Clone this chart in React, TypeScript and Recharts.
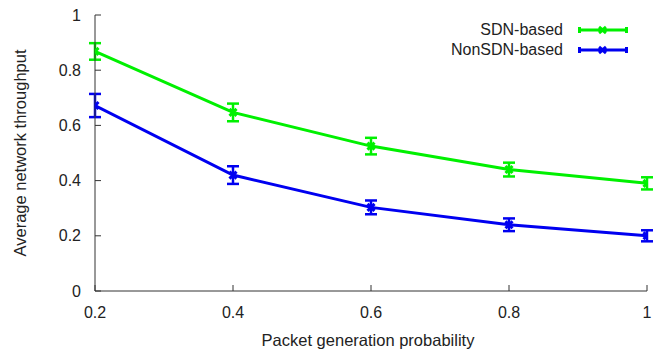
import {
  LineChart, Line, XAxis, YAxis, ErrorBar, Legend
} from 'recharts';

const probabilities = [0.2, 0.4, 0.6, 0.8, 1];
const sdnThroughput = [0.868, 0.647, 0.525, 0.44, 0.39];
const sdnError = [0.03, 0.032, 0.03, 0.025, 0.022];
const nonSdnThroughput = [0.672, 0.42, 0.303, 0.24, 0.2];
const nonSdnError = [0.042, 0.032, 0.025, 0.023, 0.02];
const xTicks = [0.2, 0.4, 0.6, 0.8, 1];
const yTicks = [0, 0.2, 0.4, 0.6, 0.8, 1];

const data = probabilities.map((p, i) => ({
  p,
  sdn: sdnThroughput[i],
  sdnErr: sdnError[i],
  nonSdn: nonSdnThroughput[i],
  nonSdnErr: nonSdnError[i],
}));

const GREEN = '#00f000';
const BLUE = '#0000f0';
const AXIS = '#333';
const FONT = '"Liberation Sans", Arial, sans-serif';
const TICK = 6;

const fmt = (v: number) => (v === 0 || v === 1 ? String(v) : v.toFixed(1));

const BottomTick = ({ x, y, payload }: any) => {
  const axisY = y - TICK;
  return (
    <g>
      <line x1={x} x2={x} y1={axisY} y2={axisY - TICK} stroke={AXIS} />
      <text x={x} y={axisY + 21} textAnchor="middle" dominantBaseline="central"
        fontSize={16} fill="#222" fontFamily={FONT}>{fmt(payload.value)}</text>
    </g>
  );
};

const LeftTick = ({ x, y, payload }: any) => {
  const axisX = x + TICK;
  return (
    <g>
      <line x1={axisX} x2={axisX + TICK} y1={y} y2={y} stroke={AXIS} />
      <text x={axisX - 14} y={y} textAnchor="end" dominantBaseline="central"
        fontSize={16} fill="#222" fontFamily={FONT}>{fmt(payload.value)}</text>
    </g>
  );
};

const TopTick = ({ x, y }: any) => {
  const axisY = y + TICK;
  return <line x1={x} x2={x} y1={axisY} y2={axisY + TICK} stroke={AXIS} />;
};

const RightTick = ({ x, y }: any) => {
  const axisX = x - TICK;
  return <line x1={axisX} x2={axisX - TICK} y1={y} y2={y} stroke={AXIS} />;
};

const XMark = ({ cx, cy, color }: any) => (
  <g stroke={color} strokeWidth={3}>
    <line x1={cx - 3.5} y1={cy - 3.5} x2={cx + 3.5} y2={cy + 3.5} />
    <line x1={cx - 3.5} y1={cy + 3.5} x2={cx + 3.5} y2={cy - 3.5} />
  </g>
);

const legendItems = [
  { name: 'SDN-based', color: GREEN },
  { name: 'NonSDN-based', color: BLUE },
];

const LegendBox = () => (
  <div style={{ fontFamily: FONT, fontSize: 16, color: '#222' }}>
    {legendItems.map((item) => (
      <div key={item.name} style={{ display: 'flex', justifyContent: 'flex-end', alignItems: 'center', height: 20 }}>
        <span style={{ marginRight: 15, lineHeight: '20px' }}>{item.name}</span>
        <svg width={50} height={20}>
          <g stroke={item.color} strokeWidth={3}>
            <line x1={1} x2={49} y1={10} y2={10} />
            <line x1={1.5} x2={1.5} y1={7} y2={13} />
            <line x1={48.5} x2={48.5} y1={7} y2={13} />
            <line x1={21} y1={7} x2={28} y2={13} />
            <line x1={21} y1={13} x2={28} y2={7} />
          </g>
        </svg>
      </div>
    ))}
  </div>
);

const YLabel = ({ viewBox }: any) => {
  const cy = viewBox.y + viewBox.height / 2;
  return (
    <text x={20} y={cy} transform={`rotate(-90, 20, ${cy})`} textAnchor="middle"
      dominantBaseline="central" fontSize={16.5} fill="#222" fontFamily={FONT}>
      Average network throughput
    </text>
  );
};

const XLabel = ({ viewBox }: any) => (
  <text x={viewBox.x + viewBox.width / 2 - 3} y={viewBox.y + 49} textAnchor="middle"
    dominantBaseline="central" fontSize={16.5} fill="#222" fontFamily={FONT}>
    Packet generation probability
  </text>
);

export default function App() {
  return (
    <div style={{ position: 'absolute', left: 0, top: 0, background: '#fff' }}>
      <LineChart width={657} height={352} data={data}
        margin={{ top: 15, right: 10, bottom: 0, left: 0 }}>
        <XAxis dataKey="p" type="number" domain={[0.2, 1]} ticks={xTicks}
          allowDataOverflow height={61} tickSize={TICK} tickMargin={0}
          axisLine={{ stroke: AXIS }} tickLine={false} tick={<BottomTick />}
          label={<XLabel />} />
        <XAxis xAxisId="top" orientation="top" dataKey="p" type="number"
          domain={[0.2, 1]} ticks={xTicks} allowDataOverflow height={0}
          tickSize={TICK} tickMargin={0} axisLine={{ stroke: AXIS }}
          tickLine={false} tick={<TopTick />} />
        <YAxis type="number" domain={[0, 1]} ticks={yTicks} allowDataOverflow
          width={95} tickSize={TICK} tickMargin={0} axisLine={{ stroke: AXIS }}
          tickLine={false} tick={<LeftTick />} label={<YLabel />} />
        <YAxis yAxisId="right" orientation="right" type="number" domain={[0, 1]}
          ticks={yTicks} allowDataOverflow width={0} tickSize={TICK} tickMargin={0}
          axisLine={{ stroke: AXIS }} tickLine={false} tick={<RightTick />} />
        <Legend layout="vertical" align="center" verticalAlign="middle"
          content={<LegendBox />}
          wrapperStyle={{ top: 20, left: 380, width: 248 }} />
        <Line dataKey="sdn" name="SDN-based" stroke={GREEN} strokeWidth={3}
          isAnimationActive={false}
          dot={(props: any) => <XMark key={`s${props.index}`} cx={props.cx} cy={props.cy} color={GREEN} />}>
          <ErrorBar dataKey="sdnErr" direction="y" width={6} strokeWidth={2.5} stroke={GREEN} />
        </Line>
        <Line dataKey="nonSdn" name="NonSDN-based" stroke={BLUE} strokeWidth={3}
          isAnimationActive={false}
          dot={(props: any) => <XMark key={`n${props.index}`} cx={props.cx} cy={props.cy} color={BLUE} />}>
          <ErrorBar dataKey="nonSdnErr" direction="y" width={6} strokeWidth={2.5} stroke={BLUE} />
        </Line>
      </LineChart>
    </div>
  );
}
